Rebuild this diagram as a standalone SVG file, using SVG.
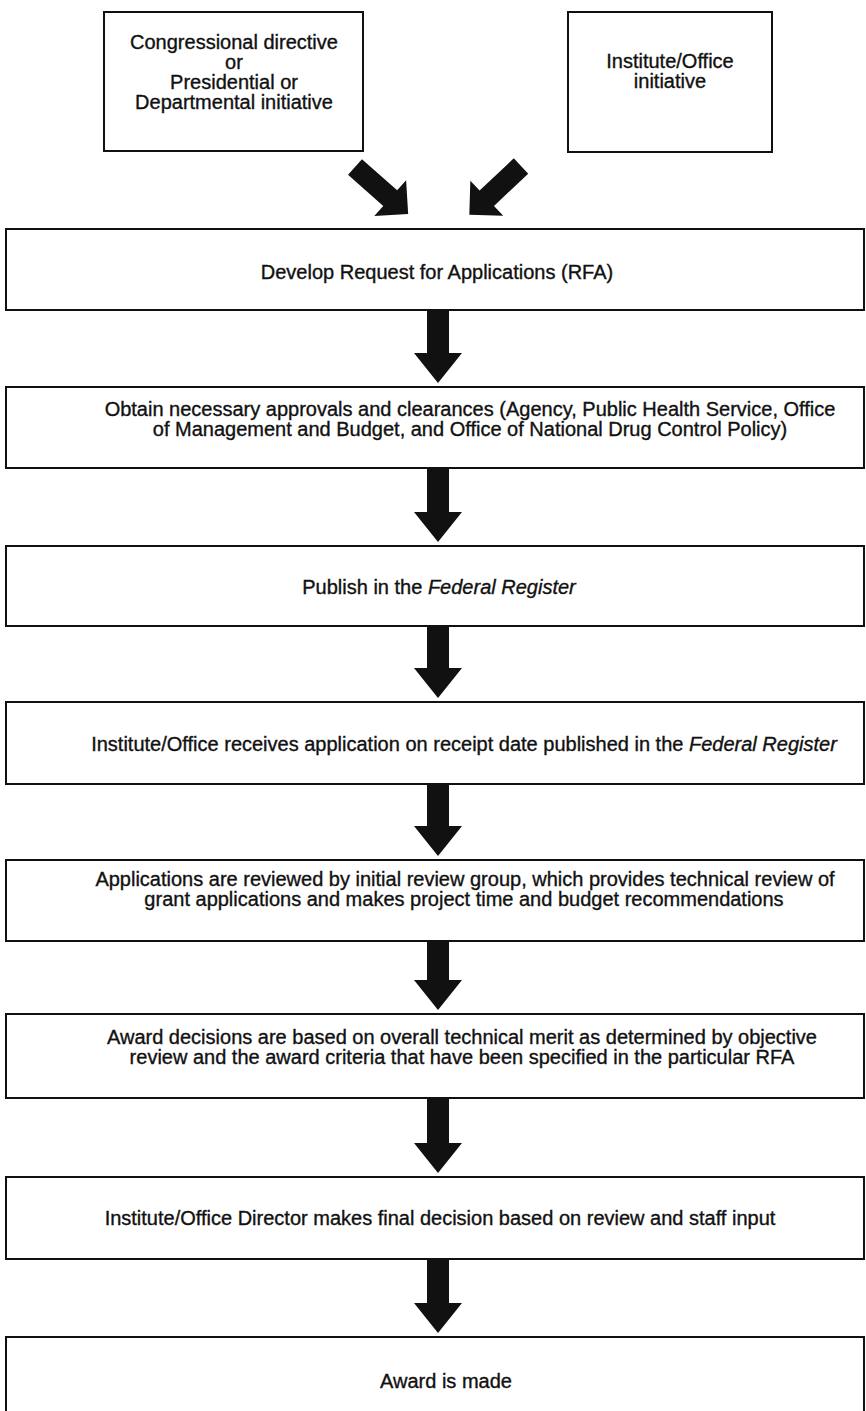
<svg xmlns="http://www.w3.org/2000/svg" width="866" height="1411" viewBox="0 0 866 1411">
<style>
.box{fill:#fff;stroke:#111;stroke-width:2}
.t{font-family:"Liberation Sans",Arial,sans-serif;font-size:20px;fill:#111;stroke:#111;stroke-width:0.35;text-anchor:middle}
.i{font-style:italic}
.arr{fill:#111}
</style>
<defs>
<path id="diag" d="M0,-10.5 H47 V-24 L71,0 L47,24 V10.5 H0 Z"/>
</defs>
<rect x="0" y="0" width="866" height="1411" fill="#fff"/>
<g id="n-congress">
<rect class="box" x="104" y="12" width="259" height="139"/>
<text class="t" x="234" y="49">Congressional directive</text>
<text class="t" x="234" y="69">or</text>
<text class="t" x="234" y="89">Presidential or</text>
<text class="t" x="234" y="109">Departmental initiative</text>
</g>
<g id="n-institute">
<rect class="box" x="568" y="12" width="204" height="140"/>
<text class="t" x="670" y="68">Institute/Office</text>
<text class="t" x="670" y="88">initiative</text>
</g>
<g id="n-develop">
<rect class="box" x="6" y="229" width="858" height="81"/>
<text class="t" x="437" y="279">Develop Request for Applications (RFA)</text>
</g>
<g id="n-approvals">
<rect class="box" x="6" y="387" width="858" height="81"/>
<text class="t" x="470" y="416">Obtain necessary approvals and clearances (Agency, Public Health Service, Office</text>
<text class="t" x="470" y="436">of Management and Budget,  and Office of National Drug Control Policy)</text>
</g>
<g id="n-publish">
<rect class="box" x="6" y="546" width="858" height="80"/>
<text class="t" x="439" y="594">Publish in the <tspan class="i">Federal Register</tspan></text>
</g>
<g id="n-receives">
<rect class="box" x="6" y="702" width="858" height="82"/>
<text class="t" x="464" y="751">Institute/Office receives application on receipt date published in the <tspan class="i">Federal Register</tspan></text>
</g>
<g id="n-reviewed">
<rect class="box" x="6" y="860" width="858" height="81"/>
<text class="t" x="465" y="886">Applications are reviewed by initial review group, which provides technical review of</text>
<text class="t" x="464" y="906">grant applications and makes project time and budget recommendations</text>
</g>
<g id="n-decisions">
<rect class="box" x="6" y="1014" width="858" height="84"/>
<text class="t" x="462" y="1044">Award decisions are based on overall technical merit as determined by objective</text>
<text class="t" x="462" y="1064">review and the award criteria that have been specified in the particular RFA</text>
</g>
<g id="n-director">
<rect class="box" x="6" y="1177" width="858" height="82"/>
<text class="t" x="440" y="1225">Institute/Office Director makes final decision based on review and staff input</text>
</g>
<g id="n-award">
<rect class="box" x="6" y="1337" width="858" height="90"/>
<text class="t" x="446" y="1388">Award is made</text>
</g>
<g id="connectors" class="arr">
<use href="#diag" transform="translate(355,167) rotate(41.5)"/>
<use href="#diag" transform="translate(521,166) rotate(136.7)"/>
<path d="M427,310 H449 V353 H462 L438,383 L414,353 H427 Z"/>
<path d="M427,468 H449 V512 H462 L438,542 L414,512 H427 Z"/>
<path d="M427,626 H449 V668 H462 L438,698 L414,668 H427 Z"/>
<path d="M427,784 H449 V826 H462 L438,856 L414,826 H427 Z"/>
<path d="M427,941 H449 V980 H462 L438,1010 L414,980 H427 Z"/>
<path d="M427,1098 H449 V1143 H462 L438,1173 L414,1143 H427 Z"/>
<path d="M427,1259 H449 V1303 H462 L438,1333 L414,1303 H427 Z"/>
</g>
</svg>
